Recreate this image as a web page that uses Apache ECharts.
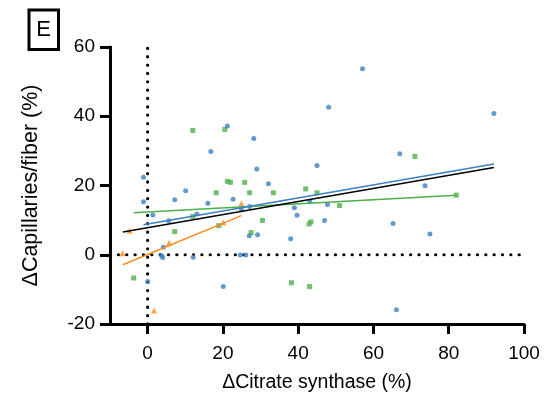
<!DOCTYPE html>
<html>
<head>
<meta charset="utf-8">
<script src="https://cdn.jsdelivr.net/npm/echarts@6/dist/echarts.min.js"></script>
<style>html,body{margin:0;padding:0;background:#fff;}#c{width:549px;height:396px;}</style>
</head>
<body>
<div id="c"></div>
<script>
// Data
const xTicks = [0, 20, 40, 60, 80, 100];
const yTicks = [-20, 0, 20, 40, 60];

const blueX = [-1.1, -1.1, 1.4, 7.2, 10.1, 16.0, 13.1, 5.6, 4.2, 3.7, 4.0, 12.1, 0, 16.8, 21.2, 28.2, 29.0, 45.0, 48.1, 32.1, 57.1, 92.0, 67.0, 73.7, 22.7, 24.9, 27.1, 39.0, 43.1, 47.8, 39.7, 47.0, 27.0, 29.2, 38.0, 24.6, 26.1, 20.1, 65.2, 75.0, 66.1];
const blueY = [22.4, 15.3, 11.5, 15.9, 18.5, 14.9, 11.8, 9.8, 2.2, -0.2, -0.8, -0.7, -7.7, 29.8, 37.2, 33.6, 24.8, 25.8, 42.6, 20.5, 53.7, 40.8, 29.2, 19.9, 16.0, 13.2, 13.9, 13.6, 15.3, 14.5, 11.4, 9.9, 5.5, 5.8, 4.6, -0.1, -0.1, -9.2, 9.0, 6.0, -15.9];

const greenX = [12.0, 20.5, 21.2, 22.0, 25.8, 42.0, 71.0, 18.2, 12.0, 7.2, 18.9, -3.7, 27.1, 33.4, 45.0, 51.0, 30.5, 42.9, 43.4, 27.5, 38.2, 43.0, 82.0];
const greenY = [35.9, 36.2, 21.2, 20.9, 20.9, 19.0, 28.4, 17.9, 11.1, 6.7, 8.4, -6.7, 17.9, 17.9, 17.9, 14.2, 9.9, 8.9, 9.5, 6.4, -8.1, -9.2, 17.2];

const orangeX = [-4.8, 5.7, -6.7, 1.7, 24.9, 20.1];
const orangeY = [6.9, 3.4, 0.4, -16.1, 14.8, 9.3];

// Regression line end points [x, y]
const fitAll = [[-6.6, 6.6], [92.0, 25.2]];
const fitBlue = [[-1.1, 8.65], [92.0, 26.2]];
const fitGreen = [[-3.7, 12.1], [82.0, 17.2]];
const fitOrange = [[-6.6, -2.9], [24.9, 11.3]];

const refV = [[0, -20], [0, 60]];
const refH = [[-10, 0], [100, 0]];

const xMin = -10, xMax = 100, yMin = -20, yMax = 60;

const zip = (a, b) => a.map((v, i) => [v, b[i]]);

const FONT = 'Liberation Sans, Arial, Helvetica, sans-serif';
const BLUE = '#3b7fc4', GREEN = '#4cb04a', ORANGE = '#ff8a1c';

const chart = echarts.init(document.getElementById('c'), null, {renderer: 'canvas'});
const dotted = {color: '#000', width: 3.2, type: [0.1, 8.25], cap: 'round'};

chart.setOption({
  animation: false,
  backgroundColor: '#fff',
  grid: {left: 110, right: 25, top: 47, bottom: 72, containLabel: false, outerBoundsMode: 'none'},
  xAxis: {
    type: 'value', min: xMin, max: xMax,
    name: 'ΔCitrate synthase (%)', nameLocation: 'middle', nameGap: 49,
    nameTextStyle: {fontFamily: FONT, fontSize: 19.5, color: '#000'},
    axisLine: {show: true, onZero: false, lineStyle: {color: '#000', width: 3}},
    axisTick: {show: true, length: 10, customValues: xTicks, lineStyle: {color: '#000', width: 3}},
    axisLabel: {customValues: xTicks, fontFamily: FONT, fontSize: 19, color: '#000', margin: 20},
    splitLine: {show: false}
  },
  yAxis: {
    type: 'value', min: yMin, max: yMax, interval: 20,
    name: 'ΔCapillaries/fiber (%)', nameLocation: 'middle', nameGap: 68,
    nameTextStyle: {fontFamily: FONT, fontSize: 21.5, color: '#000'},
    axisLine: {show: true, onZero: false, lineStyle: {color: '#000', width: 3}},
    axisTick: {show: true, length: 10, lineStyle: {color: '#000', width: 3}},
    axisLabel: {fontFamily: FONT, fontSize: 19, color: '#000', margin: 15},
    splitLine: {show: false}
  },
  graphic: [
    {type: 'rect', shape: {x: 29, y: 10, width: 29.5, height: 39.5}, style: {fill: 'none', stroke: '#000', lineWidth: 3}, z: 10},
    {type: 'text', x: 43.5, y: 30, style: {text: 'E', fontFamily: FONT, fontSize: 22, fill: '#000', align: 'center', verticalAlign: 'middle'}, z: 10}
  ],
  series: [
    {type: 'line', data: refV, symbol: 'none', lineStyle: dotted, z: 1, silent: true},
    {type: 'line', data: refH, symbol: 'none', lineStyle: dotted, z: 1, silent: true},
    {type: 'scatter', data: zip(greenX, greenY), symbol: 'rect', symbolSize: 5, itemStyle: {color: GREEN}, z: 3},
    {type: 'scatter', data: zip(blueX, blueY), symbol: 'circle', symbolSize: 5, itemStyle: {color: BLUE}, z: 3},
    {type: 'scatter', data: zip(orangeX, orangeY), symbol: 'triangle', symbolSize: 6, itemStyle: {color: ORANGE}, z: 3},
    {type: 'line', data: fitGreen, symbol: 'none', lineStyle: {color: GREEN, width: 1.5}, z: 4},
    {type: 'line', data: fitOrange, symbol: 'none', lineStyle: {color: ORANGE, width: 1.5}, z: 4},
    {type: 'line', data: fitBlue, symbol: 'none', lineStyle: {color: BLUE, width: 1.5}, z: 4},
    {type: 'line', data: fitAll, symbol: 'none', lineStyle: {color: '#000', width: 1.5}, z: 4}
  ]
});
</script>
</body>
</html>
